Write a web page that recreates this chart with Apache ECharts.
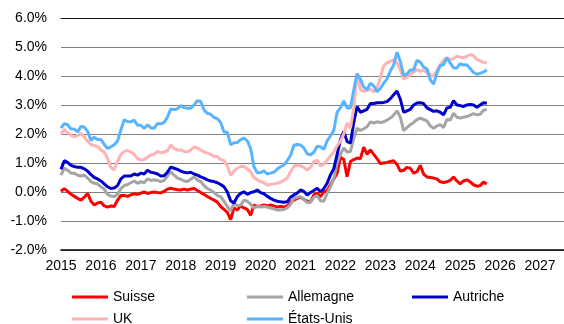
<!DOCTYPE html>
<html>
<head>
<meta charset="utf-8">
<script src="https://cdn.jsdelivr.net/npm/echarts@6/dist/echarts.min.js"></script>
<style>
  html, body { margin: 0; padding: 0; background: #fff; }
  #chart { width: 564px; height: 324px; }
</style>
</head>
<body>
<div id="chart"></div>
<script>
// Rendements des emprunts d'État à 10 ans, données mensuelles (en %)
const firstYear = 2015;

const suisse = [
  0.02, 0.12, 0.02, -0.08, -0.15, -0.22, -0.28, -0.18,
  -0.05, -0.32, -0.45, -0.38, -0.35, -0.48, -0.52, -0.48, -0.50, -0.28, -0.12, -0.12,
  -0.15, -0.10, -0.06, -0.08, -0.04, 0.00, -0.05, -0.02, 0.00, -0.02, -0.03, 0.02,
  0.10, 0.13, 0.10, 0.08, 0.07, 0.10, 0.07, 0.10, 0.12, 0.05, -0.02, -0.08,
  -0.16, -0.22, -0.28, -0.35, -0.50, -0.60, -0.70, -0.95, -0.55, -0.62, -0.48, -0.55,
  -0.60, -0.80, -0.45, -0.50, -0.48, -0.45, -0.48, -0.45, -0.48, -0.52, -0.50, -0.52,
  -0.48, -0.35, -0.28, -0.22, -0.18, -0.25, -0.32, -0.35, -0.10, -0.04, -0.16, 0.00,
  0.05, 0.25, 0.45, 0.65, 1.20, 1.12, 0.53, 1.05, 1.12, 1.17, 1.15, 1.55,
  1.30, 1.45, 1.30, 1.15, 0.98, 1.00, 1.02, 1.05, 1.08, 0.95, 0.72, 0.75,
  0.85, 0.82, 0.65, 0.70, 0.92, 0.62, 0.52, 0.50, 0.48, 0.45, 0.35, 0.33,
  0.35, 0.40, 0.52, 0.38, 0.28, 0.38, 0.42, 0.35, 0.25, 0.20, 0.22, 0.34,
  0.28
];

const allemagne = [
  0.58, 0.82, 0.75, 0.65, 0.65, 0.58, 0.55, 0.58,
  0.48, 0.36, 0.30, 0.28, 0.18, 0.10, -0.08, -0.14, -0.16, -0.08, 0.12, 0.22,
  0.26, 0.32, 0.38, 0.30, 0.36, 0.32, 0.45, 0.40, 0.42, 0.40, 0.36, 0.40,
  0.55, 0.70, 0.58, 0.48, 0.44, 0.38, 0.36, 0.44, 0.52, 0.42, 0.36, 0.22,
  0.12, 0.06, -0.02, -0.12, -0.16, -0.32, -0.50, -0.65, -0.38, -0.48, -0.45, -0.28,
  -0.32, -0.42, -0.55, -0.50, -0.52, -0.50, -0.52, -0.55, -0.58, -0.62, -0.62, -0.60,
  -0.55, -0.42, -0.22, -0.18, -0.16, -0.26, -0.36, -0.35, -0.18, -0.12, -0.30, -0.32,
  -0.05, 0.18, 0.45, 1.00, 1.30, 1.52, 1.38, 1.40, 1.85, 2.20, 2.12, 2.18,
  2.25, 2.42, 2.38, 2.42, 2.40, 2.42, 2.48, 2.55, 2.65, 2.80, 2.58, 2.12,
  2.22, 2.32, 2.40, 2.50, 2.55, 2.50, 2.45, 2.28, 2.20, 2.28, 2.32, 2.22,
  2.50, 2.48, 2.72, 2.58, 2.55, 2.58, 2.60, 2.65, 2.70, 2.66, 2.68, 2.82,
  2.85
];

const autriche = [
  0.78, 1.08, 1.02, 0.92, 0.88, 0.85, 0.85, 0.80,
  0.72, 0.60, 0.50, 0.45, 0.38, 0.28, 0.18, 0.12, 0.14, 0.22, 0.45, 0.55,
  0.55, 0.55, 0.62, 0.58, 0.65, 0.62, 0.75, 0.68, 0.66, 0.62, 0.55, 0.56,
  0.68, 0.86, 0.82, 0.78, 0.72, 0.68, 0.66, 0.68, 0.62, 0.58, 0.52, 0.48,
  0.42, 0.38, 0.36, 0.32, 0.26, 0.18, 0.00, -0.30, -0.38, -0.16, -0.05, 0.01,
  -0.08, -0.02, 0.01, 0.07, -0.02, -0.06, -0.15, -0.22, -0.28, -0.32, -0.34, -0.35,
  -0.34, -0.18, -0.10, -0.04, 0.07, 0.02, -0.10, -0.02, 0.05, 0.13, 0.01, 0.12,
  0.30, 0.59, 0.80, 1.30, 1.80, 2.09, 1.74, 1.68, 2.40, 2.95, 2.75, 2.80,
  2.85, 3.05, 3.05, 3.08, 3.08, 3.09, 3.12, 3.22, 3.35, 3.48, 3.20, 2.75,
  2.80, 2.85, 3.00, 3.07, 3.08, 3.05, 2.90, 2.84, 2.78, 2.80, 2.75, 2.66,
  2.90, 2.92, 3.15, 3.00, 2.98, 2.95, 3.00, 3.02, 3.00, 2.92, 3.00, 3.08,
  3.06
];

const uk = [
  2.00, 2.15, 2.05, 1.95, 1.90, 1.95, 2.02, 1.90,
  1.75, 1.63, 1.60, 1.57, 1.45, 1.38, 1.15, 0.85, 0.76, 1.05, 1.30, 1.40,
  1.43, 1.38, 1.30, 1.15, 1.10, 1.12, 1.20, 1.28, 1.30, 1.40, 1.35, 1.38,
  1.42, 1.62, 1.50, 1.45, 1.45, 1.40, 1.38, 1.45, 1.55, 1.52, 1.45, 1.38,
  1.35, 1.30, 1.22, 1.22, 1.12, 1.08, 0.90, 0.58, 0.72, 0.82, 0.88, 0.88,
  0.80, 0.70, 0.50, 0.42, 0.36, 0.32, 0.24, 0.27, 0.28, 0.30, 0.34, 0.40,
  0.48, 0.70, 0.88, 0.93, 0.90, 0.85, 0.76, 0.85, 1.05, 1.10, 0.90, 0.95,
  1.10, 1.25, 1.38, 1.60, 1.75, 2.00, 2.38, 2.20, 2.90, 4.10, 3.53, 3.47,
  3.50, 3.55, 3.45, 3.60, 3.95, 4.35, 4.45, 4.50, 4.57, 4.45, 4.20, 3.90,
  3.95, 4.05, 4.15, 4.22, 4.16, 4.22, 4.10, 4.05, 3.99, 4.20, 4.39, 4.55,
  4.63, 4.57, 4.60, 4.68, 4.65, 4.63, 4.68, 4.74, 4.70, 4.57, 4.52, 4.47,
  4.45
];

const etatsUnis = [
  2.20, 2.36, 2.32, 2.17, 2.17, 2.07, 2.26, 2.24,
  2.09, 1.78, 1.89, 1.81, 1.81, 1.64, 1.50, 1.56, 1.63, 1.76, 2.14, 2.49,
  2.43, 2.42, 2.48, 2.30, 2.30, 2.19, 2.32, 2.21, 2.20, 2.36, 2.35, 2.40,
  2.58, 2.86, 2.84, 2.87, 2.98, 2.91, 2.89, 2.89, 3.00, 3.15, 3.12, 2.83,
  2.71, 2.68, 2.57, 2.53, 2.40, 2.07, 2.06, 1.63, 1.70, 1.71, 1.81, 1.86,
  1.76, 1.50, 0.87, 0.66, 0.67, 0.73, 0.62, 0.65, 0.68, 0.79, 0.87, 0.93,
  1.08, 1.26, 1.61, 1.64, 1.62, 1.52, 1.32, 1.28, 1.37, 1.58, 1.56, 1.47,
  1.76, 1.93, 2.13, 2.75, 2.90, 3.14, 2.90, 2.90, 3.52, 4.08, 3.89, 3.62,
  3.53, 3.75, 3.66, 3.46, 3.57, 3.75, 3.90, 4.17, 4.38, 4.82, 4.50, 4.02,
  4.06, 4.21, 4.21, 4.54, 4.48, 4.31, 4.25, 3.87, 3.72, 4.10, 4.36, 4.39,
  4.63, 4.45, 4.28, 4.28, 4.42, 4.38, 4.39, 4.26, 4.12, 4.06, 4.09, 4.14,
  4.21
];

const yearTicks = [2015, 2016, 2017, 2018, 2019, 2020, 2021, 2022, 2023, 2024, 2025, 2026, 2027];
const yTicks = [-2, -1, 0, 1, 2, 3, 4, 5, 6];

const seriesDefs = [
  { name: 'Suisse', values: suisse, color: '#FF0000' },
  { name: 'Allemagne', values: allemagne, color: '#A5A5A5' },
  { name: 'Autriche', values: autriche, color: '#0000CC' },
  { name: 'UK', values: uk, color: '#FFB3B3' },
  { name: 'États-Unis', values: etatsUnis, color: '#59B4FF' }
];

// position of each monthly observation on the year axis
const monthPos = suisse.map((_, i) => firstYear + i / 12);

const font = "'Liberation Sans', Arial, sans-serif";
const xMax = 2027.6;

const legendSlots = [
  { name: 'Suisse', left: 72, top: 290 },
  { name: 'Allemagne', left: 247, top: 290 },
  { name: 'Autriche', left: 412, top: 290 },
  { name: 'UK', left: 72, top: 312 },
  { name: 'États-Unis', left: 247, top: 312 }
];

const chart = echarts.init(document.getElementById('chart'), null, { renderer: 'canvas' });
chart.setOption({
  animation: false,
  backgroundColor: '#ffffff',
  grid: { left: 61, right: 0, top: 18, bottom: 74, containLabel: false },
  legend: legendSlots.map(s => ({
    data: [s.name],
    left: s.left,
    top: s.top,
    padding: 0,
    icon: 'rect',
    itemWidth: 36,
    itemHeight: 3,
    selectedMode: false,
    textStyle: { fontFamily: font, fontSize: 14, color: '#000' }
  })),
  xAxis: [
    {
      type: 'value',
      min: yearTicks[0],
      max: xMax,
      interval: 1,
      axisLine: { show: true, onZero: false, lineStyle: { color: '#000', width: 1.5 } },
      axisTick: { show: false },
      splitLine: { show: false },
      axisLabel: {
        showMaxLabel: false,
        margin: 9,
        fontFamily: font,
        fontSize: 14,
        color: '#000',
        formatter: v => (yearTicks.includes(Math.round(v)) ? String(Math.round(v)) : '')
      }
    },
    {
      // dark rule along the 6 % level
      type: 'value',
      position: 'top',
      min: yearTicks[0],
      max: xMax,
      axisLine: { show: true, onZero: false, lineStyle: { color: '#1a1a1a', width: 1 } },
      axisTick: { show: false },
      axisLabel: { show: false },
      splitLine: { show: false }
    }
  ],
  yAxis: {
    type: 'value',
    min: yTicks[0],
    max: yTicks[yTicks.length - 1],
    interval: 1,
    axisLine: { show: false },
    axisTick: { show: false },
    splitLine: { show: true, lineStyle: { color: '#808080', width: 1 } },
    axisLabel: {
      margin: 14,
      fontFamily: font,
      fontSize: 14,
      color: '#000',
      formatter: v => v.toFixed(1) + '%'
    }
  },
  series: seriesDefs.map(s => ({
    name: s.name,
    type: 'line',
    xAxisIndex: 0,
    data: s.values.map((v, i) => [monthPos[i], v]),
    showSymbol: false,
    symbol: 'none',
    color: s.color,
    lineStyle: { color: s.color, width: 3 },
    emphasis: { disabled: true }
  }))
});
</script>
</body>
</html>
